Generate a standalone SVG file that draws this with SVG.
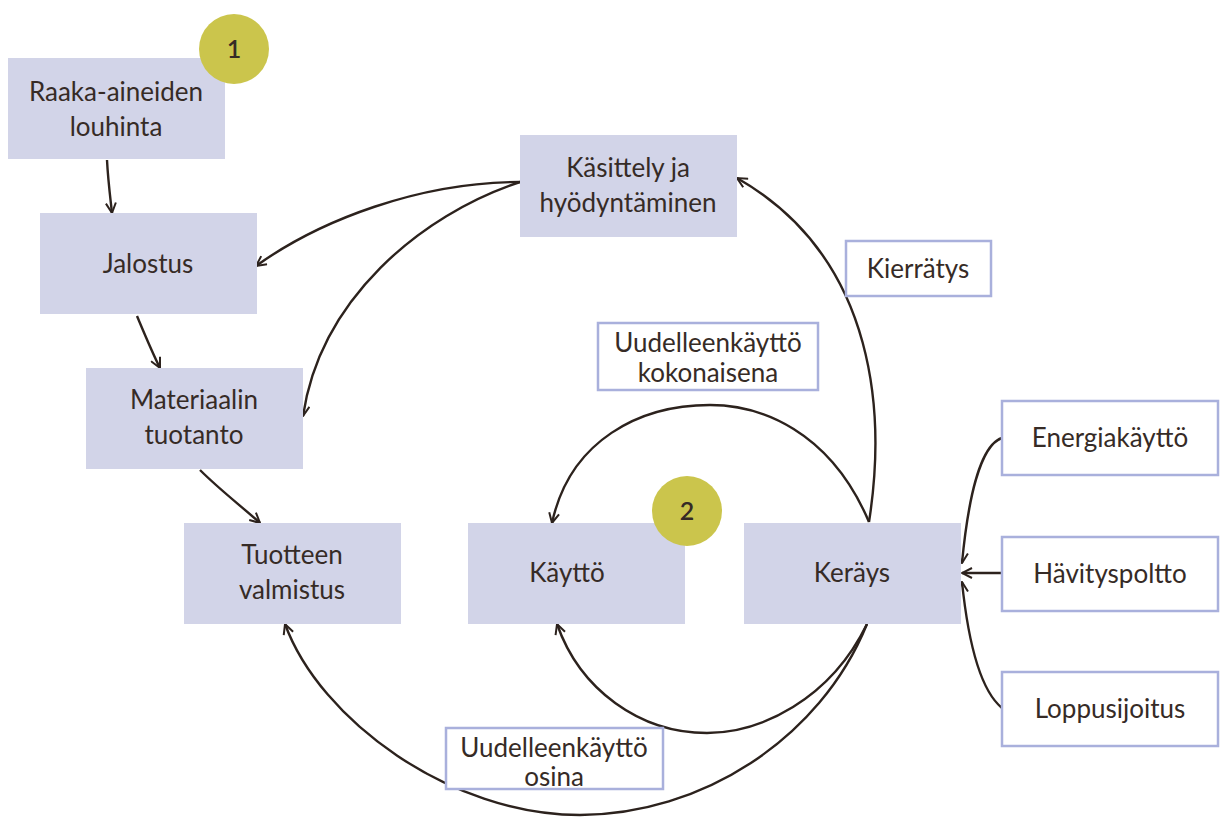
<svg xmlns="http://www.w3.org/2000/svg" width="1220" height="825" viewBox="0 0 1220 825">
<defs>
<style>
.n{fill:#d2d4e8;}
.o{fill:#fff;stroke:#a9b0dc;stroke-width:2.5;}
.c{fill:#cbc54c;}
text{font-family:"Lato","Open Sans","Liberation Sans",sans-serif;font-size:26px;fill:#362b26;text-anchor:middle;}
.num{font-size:25px;font-weight:600;}
.e{fill:none;stroke:#2c221d;stroke-width:2.4;marker-end:url(#ah);}
</style>
<marker id="ah" viewBox="0 0 12 12" refX="11" refY="6" markerWidth="12" markerHeight="12" markerUnits="userSpaceOnUse" orient="auto">
<path d="M1,1 L11,6 L1,11" fill="none" stroke="#2c221d" stroke-width="2"/>
</marker>
</defs>
<g id="connectors">
<path class="e" d="M107,160 C108,180 110,195 112,213"/>
<path class="e" d="M137,316 C145,335 152,352 160,368"/>
<path class="e" d="M200,470 C220,490 240,505 260,523"/>
<path class="e" d="M520,182 C420,182 320,220 256,266"/>
<path class="e" d="M520,182 C420,215 320,300 303,416"/>
<path class="e" d="M869,522 C885,420 880,260 737,178"/>
<path class="e" d="M869,522 C830,430 760,405 710,405 C640,405 570,440 552,523"/>
<path class="e" d="M867,624 C830,700 760,733 707,733 C640,733 580,690 557,624"/>
<path class="e" d="M867,624 C820,740 700,815 580,815 C450,815 320,720 285,624"/>
<path class="e" d="M1002,438 C980,445 968,500 962,563"/>
<path class="e" d="M1002,573 L962,573"/>
<path class="e" d="M1002,708 C980,690 968,640 962,582"/>
</g>
<g id="raaka"><rect class="n" x="8" y="58" width="217" height="101"/><text x="116" y="101">Raaka-aineiden</text><text x="116" y="136">louhinta</text></g>
<g id="badge1"><circle class="c" cx="234" cy="49" r="35"/><text class="num" x="234" y="58">1</text></g>
<g id="kasittely"><rect class="n" x="520" y="135" width="217" height="102"/><text x="628" y="177">Käsittely ja</text><text x="628" y="212">hyödyntäminen</text></g>
<g id="jalostus"><rect class="n" x="40" y="213" width="217" height="101"/><text x="148" y="273">Jalostus</text></g>
<g id="materiaalin"><rect class="n" x="86" y="368" width="217" height="101"/><text x="194" y="409">Materiaalin</text><text x="194" y="444">tuotanto</text></g>
<g id="tuotteen"><rect class="n" x="184" y="523" width="217" height="101"/><text x="292" y="564">Tuotteen</text><text x="292" y="599">valmistus</text></g>
<g id="kaytto"><rect class="n" x="468" y="523" width="217" height="101"/><text x="567" y="582">Käyttö</text></g>
<g id="badge2"><circle class="c" cx="687" cy="511" r="35"/><text class="num" x="687" y="520">2</text></g>
<g id="kerays"><rect class="n" x="744" y="523" width="217" height="101"/><text x="852" y="582">Keräys</text></g>
<g id="energia"><rect class="o" x="1002" y="401" width="216" height="74"/><text x="1110" y="447">Energiakäyttö</text></g>
<g id="havitys"><rect class="o" x="1002" y="537" width="216" height="74"/><text x="1110" y="583">Hävityspoltto</text></g>
<g id="loppu"><rect class="o" x="1002" y="672" width="216" height="74"/><text x="1110" y="718">Loppusijoitus</text></g>
<g id="kierratys"><rect class="o" x="846" y="241" width="145" height="55"/><text x="918" y="278">Kierrätys</text></g>
<g id="kokonaisena"><rect class="o" x="598" y="323" width="220" height="67"/><text x="708" y="352">Uudelleenkäyttö</text><text x="708" y="382">kokonaisena</text></g>
<g id="osina"><rect class="o" x="446" y="728" width="217" height="61"/><text x="554" y="757">Uudelleenkäyttö</text><text x="554" y="786">osina</text></g>
</svg>
